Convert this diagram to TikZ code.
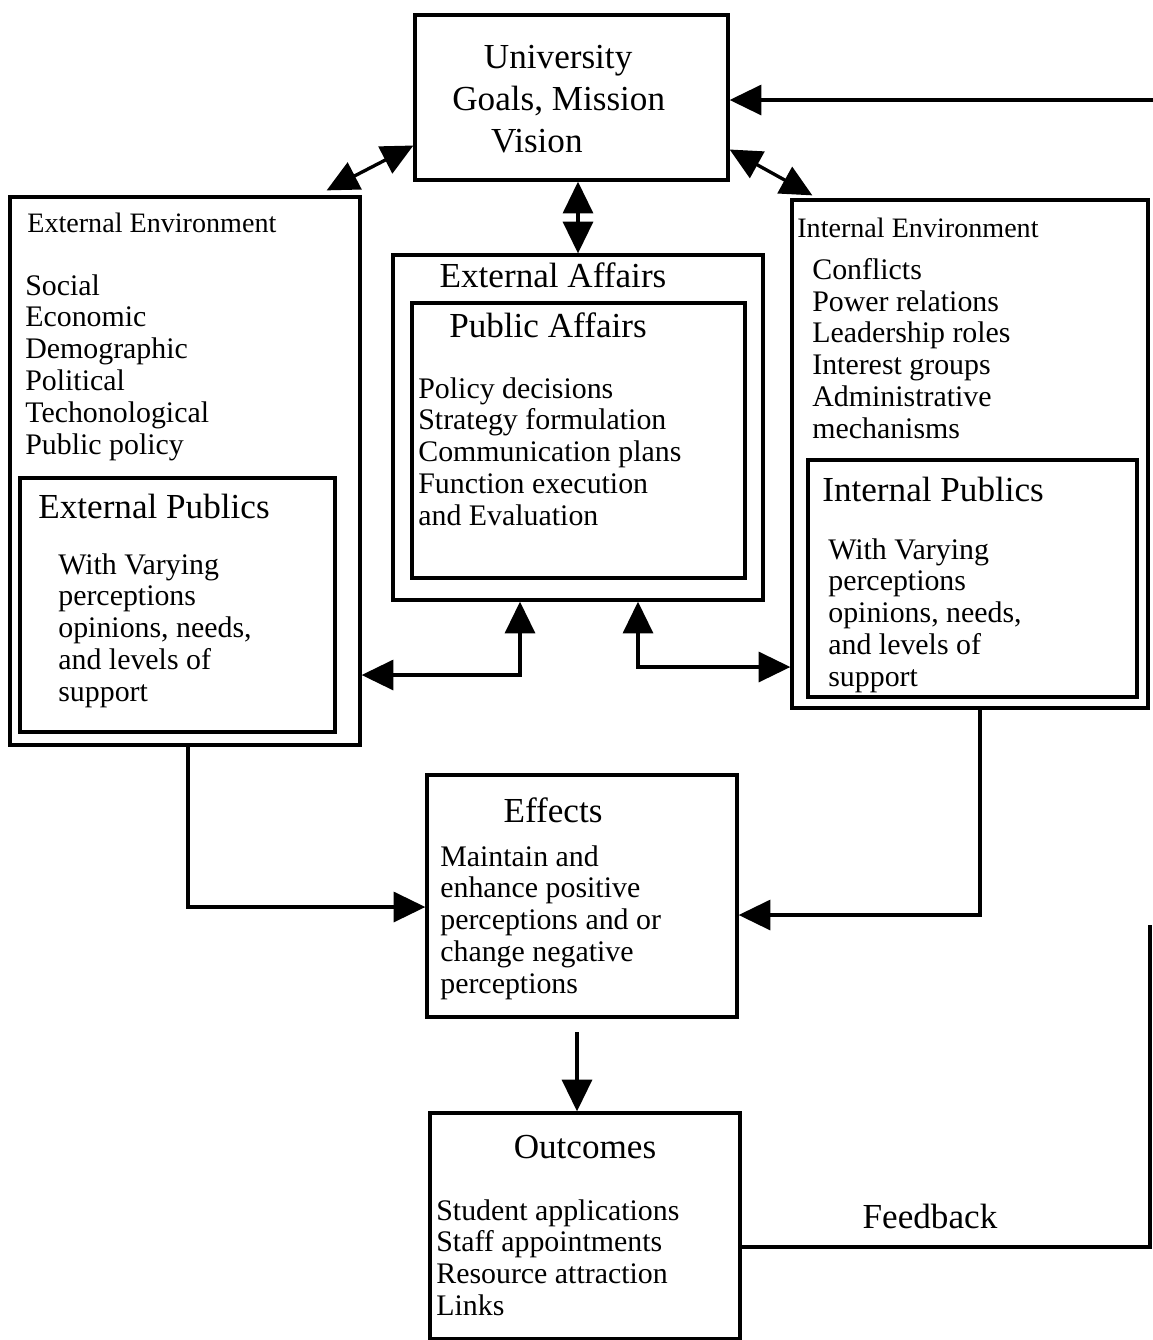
\documentclass[tikz,border=0pt]{standalone}
\usepackage{fontspec}
\setmainfont{Liberation Serif}
\usepackage{tikz}
\usetikzlibrary{positioning,arrows.meta,calc}

\begin{document}
\begin{tikzpicture}[x=0.02cm,y=-0.02cm,>={Triangle[length=18pt,width=17pt]},
 box/.style={draw,line width=1.9pt,inner sep=0pt},
 ttl/.style={inner sep=0pt,font=\fontsize{20}{24}\selectfont},
 lst/.style={inner sep=0pt,anchor=north west,align=left,font=\fontsize{17}{18.1}\selectfont},
 hdr/.style={inner sep=0pt,anchor=west,font=\fontsize{16}{18}\selectfont},
 link/.style={line width=1.9pt}]
\useasboundingbox (0,0) rectangle (1153,1340);
% boxes
\node[box,minimum width=6.26cm,minimum height=3.3cm] (univ) at (571.5,97.5) {};
\node[box,minimum width=7cm,minimum height=10.96cm] (extenv) at (185,471) {};
\node[box,minimum width=6.3cm,minimum height=5.08cm] (extpub) at (177.5,605) {};
\node[box,minimum width=7.4cm,minimum height=6.9cm] (extaff) at (578,427.5) {};
\node[box,minimum width=6.66cm,minimum height=5.5cm] (pubaff) at (578.5,440.5) {};
\node[box,minimum width=7.12cm,minimum height=10.16cm] (intenv) at (970,454) {};
\node[box,minimum width=6.58cm,minimum height=4.74cm] (intpub) at (972.5,578.5) {};
\node[box,minimum width=6.2cm,minimum height=4.84cm] (effects) at (582,896) {};
\node[box,minimum width=6.2cm,minimum height=4.52cm] (outcomes) at (585,1226) {};
% texts
\node[ttl,align=left,anchor=west] (univtxt) at (452,99) {\hspace*{18pt}University\\Goals, Mission\\\hspace*{22pt}Vision};
\node[hdr] (extenvhdr) at (27,223) {External Environment};
\node[lst] (extenvlst) at (25,274) {Social\\Economic\\Demographic\\Political\\Techonological\\Public policy};
\node[ttl,anchor=west] (extpubttl) at (38,506) {External Publics};
\node[lst] (extpublst) at (58,553) {With Varying\\perceptions\\opinions, needs,\\and levels of\\support};
\node[ttl] (extaffttl) at (553,275) {External Affairs};
\node[ttl] (pubaffttl) at (548,325) {Public Affairs};
\node[lst] (pubafflst) at (418,377) {Policy decisions\\Strategy formulation\\Communication plans\\Function execution\\and Evaluation};
\node[hdr] (intenvhdr) at (797,228) {Internal Environment};
\node[lst] (intenvlst) at (812,258) {Conflicts\\Power relations\\Leadership roles\\Interest groups\\Administrative\\mechanisms};
\node[ttl,anchor=west] (intpubttl) at (822,489) {Internal Publics};
\node[lst] (intpublst) at (828,538) {With Varying\\perceptions\\opinions, needs,\\and levels of\\support};
\node[ttl] (effectsttl) at (553,810) {Effects};
\node[lst] (effectslst) at (440,845) {Maintain and\\enhance positive\\perceptions and or\\change negative\\perceptions};
\node[ttl] (outcomesttl) at (585,1147) {Outcomes};
\node[lst] (outcomeslst) at (436,1199) {Student applications\\Staff appointments\\Resource attraction\\Links};
\node[ttl] (feedback) at (930,1216) {Feedback};
% corners of the connectors
\coordinate (jl) at (520,675);
\coordinate (jr) at (638,667);
\coordinate (ka) at (188,907);
\coordinate (kb) at (980,915);
\coordinate (eo) at (577,1032);
\coordinate (fb1) at (1150,1247);
\coordinate (fb2) at (1150,925);
\coordinate (fb3) at (1153,100);
% connectors
\draw[link,<->] ($(univ.west)+(0,48)$) -- ($(extenv.north east)+(-35,-5)$);
\draw[link,<->] ($(univ.east)+(0,52)$) -- ($(intenv.north west)+(22,-3)$);
\draw[link,<->] (univ.south -| extaff.north) -- (extaff.north);
\draw[link,<->] (extaff.south -| jl) -- (jl) -- (extenv.east |- jl);
\draw[link,<->] (extaff.south -| jr) -- (jr) -- (intenv.west |- jr);
\draw[link,->] (extenv.south -| ka) -- (ka) -- (effects.west |- ka);
\draw[link,->] (intenv.south -| kb) -- (kb) -- (effects.east |- kb);
\draw[link,->] (eo) -- (outcomes.north -| eo);
\draw[link] (outcomes.east |- fb1) -- (fb1) -- (fb2);
\draw[link,->] (fb3) -- (univ.east |- fb3);
\end{tikzpicture}
\end{document}
